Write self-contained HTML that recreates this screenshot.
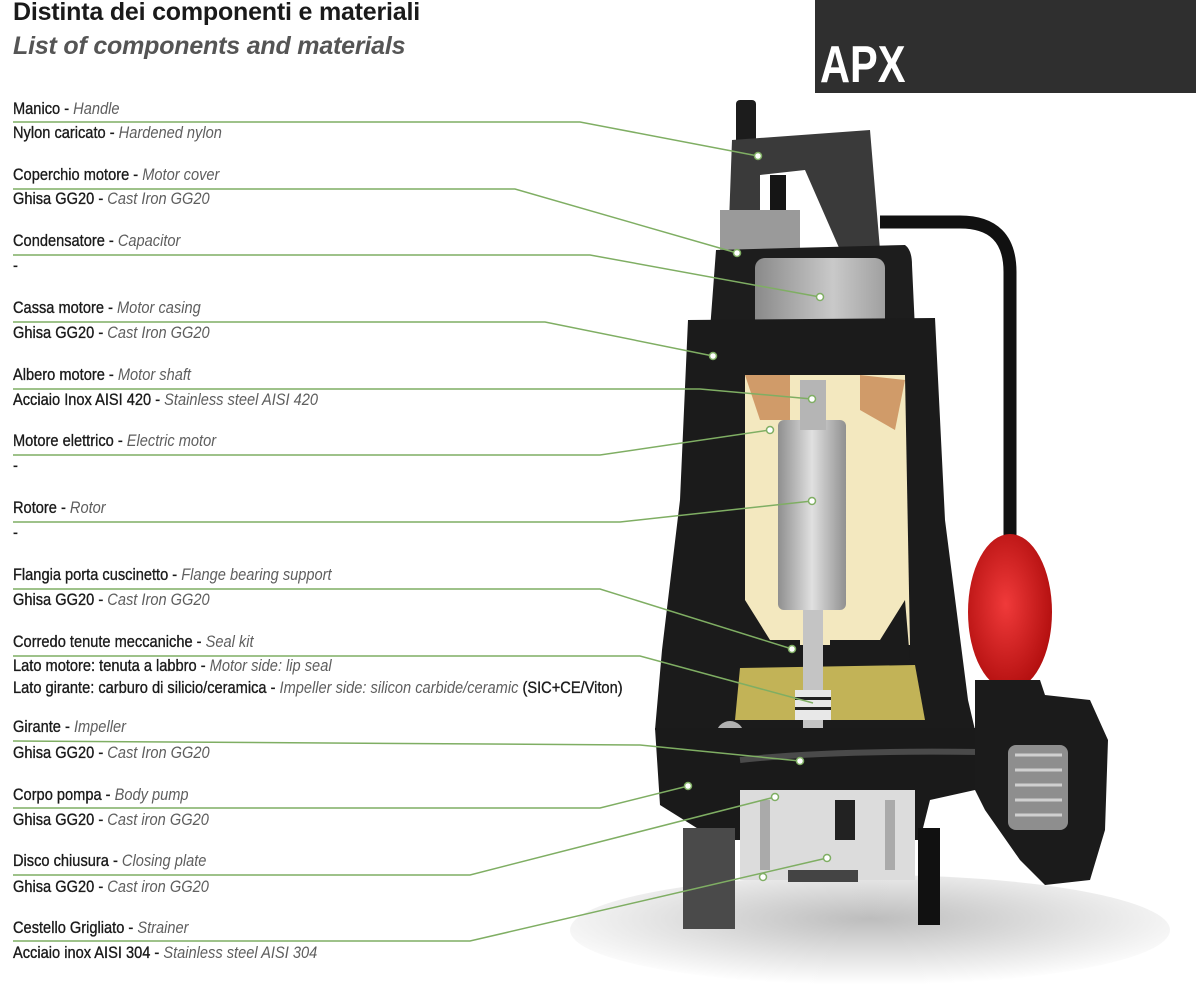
<!DOCTYPE html>
<html><head><meta charset="utf-8"><style>
html,body{margin:0;padding:0;background:#fff;}
#w{position:relative;width:1196px;height:1000px;overflow:hidden;background:#fff;font-family:"Liberation Sans",sans-serif;}
.t1{position:absolute;left:13px;top:-2px;font-size:25px;font-weight:bold;color:#1a1a1a;letter-spacing:-0.2px;}
.t2{position:absolute;left:13px;top:32px;font-size:25px;font-weight:bold;font-style:italic;color:#555;letter-spacing:-0.2px;}
.l{position:absolute;left:13px;font-size:17px;color:#1a1a1a;white-space:nowrap;transform:scaleX(.86);transform-origin:0 0;-webkit-text-stroke:.35px #1a1a1a;}
.l i{color:#5e5e5e;-webkit-text-stroke:0;}
</style></head><body><div id="w">
<svg width="1196" height="1000" style="position:absolute;left:0;top:0">
<defs>
<radialGradient id="sh" cx=".5" cy=".4" r=".6"><stop offset="0" stop-color="#bdbdbd"/><stop offset="1" stop-color="#fff"/></radialGradient>
<linearGradient id="rot" x1="0" y1="0" x2="1" y2="0"><stop offset="0" stop-color="#8f8f8f"/><stop offset=".5" stop-color="#e0e0e0"/><stop offset="1" stop-color="#909090"/></linearGradient>
<linearGradient id="cap" x1="0" y1="0" x2="1" y2="0"><stop offset="0" stop-color="#8a8a8a"/><stop offset=".6" stop-color="#c9c9c9"/><stop offset="1" stop-color="#a0a0a0"/></linearGradient>
<radialGradient id="red" cx=".45" cy=".45" r=".6"><stop offset="0" stop-color="#f03a3a"/><stop offset="1" stop-color="#b00d0d"/></radialGradient>
</defs>
<rect x="815" y="0" width="381" height="93" fill="#2f2f2f"/>
<text x="820" y="82" font-family="Liberation Sans" font-weight="bold" font-size="52" fill="#fff" transform="translate(820 0) scale(.8 1) translate(-820 0)">APX</text>
<ellipse cx="870" cy="930" rx="300" ry="55" fill="url(#sh)"/>
<path d="M880 222 L960 222 Q1010 222 1010 272 L1010 560" stroke="#111" stroke-width="13" fill="none"/>
<ellipse cx="1010" cy="612" rx="42" ry="78" fill="url(#red)"/>
<rect x="736" y="100" width="20" height="55" rx="4" fill="#1c1c1c"/>
<path d="M732 140 L870 130 L880 250 L840 250 L805 170 L760 175 L760 250 L728 250 Z" fill="#3a3a3a"/>
<rect x="770" y="175" width="16" height="70" fill="#151515"/>
<rect x="720" y="210" width="80" height="40" fill="#9a9a9a"/>
<path d="M716 250 L905 245 Q912 250 912 265 L915 330 L710 330 Z" fill="#1d1d1d"/>
<rect x="755" y="258" width="130" height="80" rx="10" fill="url(#cap)"/>
<path d="M688 320 L935 318 L945 520 L968 700 L975 730 L655 730 L662 650 L680 500 Z" fill="#1b1b1b"/>
<path d="M745 375 L905 375 L910 645 L745 645 Z" fill="#f3e8bf"/>
<path d="M745 375 L790 375 L790 420 L760 420 Z" fill="#c07a45" opacity=".7"/>
<path d="M860 375 L905 380 L895 430 L860 410 Z" fill="#c07a45" opacity=".7"/>
<rect x="778" y="420" width="68" height="190" rx="6" fill="url(#rot)"/>
<rect x="800" y="380" width="26" height="50" fill="#b5b5b5"/>
<path d="M745 600 L770 640 L800 640 L800 660 L745 660 Z M905 600 L880 640 L830 640 L830 660 L910 660 Z" fill="#1b1b1b"/>
<path d="M740 668 L915 665 L925 720 L735 720 Z" fill="#c2b357"/>
<rect x="803" y="610" width="20" height="140" fill="#c4c4c4"/>
<rect x="795" y="690" width="36" height="30" fill="#e8e8e8"/>
<rect x="795" y="697" width="36" height="3" fill="#222"/><rect x="795" y="707" width="36" height="3" fill="#222"/>
<circle cx="730" cy="735" r="14" fill="#b0b0b0"/>
<path d="M655 728 L975 728 L990 760 L975 790 L930 800 L920 840 L735 840 L700 830 L660 805 Z" fill="#1a1a1a"/>
<path d="M740 760 Q830 750 980 752" stroke="#4a4a4a" stroke-width="6" fill="none"/>
<path d="M975 680 L1040 680 L1045 695 L1090 700 L1108 740 L1105 830 L1090 880 L1045 885 L1020 860 L985 810 L975 790 Z" fill="#1b1b1b"/>
<rect x="1008" y="745" width="60" height="85" rx="8" fill="#8e8e8e"/>
<g stroke="#d0d0d0" stroke-width="3"><line x1="1015" y1="755" x2="1062" y2="755"/><line x1="1015" y1="770" x2="1062" y2="770"/><line x1="1015" y1="785" x2="1062" y2="785"/><line x1="1015" y1="800" x2="1062" y2="800"/><line x1="1015" y1="815" x2="1062" y2="815"/></g>
<rect x="740" y="790" width="175" height="90" fill="#dcdcdc"/>
<rect x="760" y="800" width="10" height="70" fill="#aaa"/><rect x="885" y="800" width="10" height="70" fill="#aaa"/>
<rect x="835" y="800" width="20" height="40" fill="#222"/>
<rect x="788" y="870" width="70" height="12" fill="#444"/>
<rect x="683" y="828" width="52" height="101" fill="#4a4a4a"/>
<rect x="918" y="828" width="22" height="97" fill="#111"/>
<g stroke="#7fae63" stroke-width="1.5" fill="none">
<polyline points="13,122 580,122 758,156"/>
<polyline points="13,189 515,189 737,253"/>
<polyline points="13,255 590,255 820,297"/>
<polyline points="13,322 545,322 713,356"/>
<polyline points="13,389 700,389 812,399"/>
<polyline points="13,455 600,455 770,430"/>
<polyline points="13,522 620,522 812,501"/>
<polyline points="13,589 600,589 792,649"/>
<polyline points="13,656 640,656 813,703"/>
<polyline points="13,741 640,745 800,761"/>
<polyline points="13,808 600,808 688,786"/>
<polyline points="13,875 470,875 775,797"/>
<polyline points="13,941 470,941 827,858"/>
</g>
<g stroke="#7fae63" stroke-width="1.5" fill="#fff">
<circle cx="758" cy="156" r="3.5"/><circle cx="737" cy="253" r="3.5"/><circle cx="820" cy="297" r="3.5"/><circle cx="713" cy="356" r="3.5"/><circle cx="812" cy="399" r="3.5"/><circle cx="770" cy="430" r="3.5"/><circle cx="812" cy="501" r="3.5"/><circle cx="792" cy="649" r="3.5"/><circle cx="800" cy="761" r="3.5"/><circle cx="688" cy="786" r="3.5"/><circle cx="775" cy="797" r="3.5"/><circle cx="827" cy="858" r="3.5"/><circle cx="763" cy="877" r="3.5"/>
</g>
</svg>
<div class="t1">Distinta dei componenti e materiali</div>
<div class="t2">List of components and materials</div>
<div class="l" style="top:99px">Manico - <i>Handle</i></div>
<div class="l" style="top:123px">Nylon caricato - <i>Hardened nylon</i></div>
<div class="l" style="top:165px">Coperchio motore - <i>Motor cover</i></div>
<div class="l" style="top:189px">Ghisa GG20 - <i>Cast Iron GG20</i></div>
<div class="l" style="top:231px">Condensatore - <i>Capacitor</i></div>
<div class="l" style="top:256px">-</div>
<div class="l" style="top:298px">Cassa motore - <i>Motor casing</i></div>
<div class="l" style="top:323px">Ghisa GG20 - <i>Cast Iron GG20</i></div>
<div class="l" style="top:365px">Albero motore - <i>Motor shaft</i></div>
<div class="l" style="top:390px">Acciaio Inox AISI 420 - <i>Stainless steel AISI 420</i></div>
<div class="l" style="top:431px">Motore elettrico - <i>Electric motor</i></div>
<div class="l" style="top:456px">-</div>
<div class="l" style="top:498px">Rotore - <i>Rotor</i></div>
<div class="l" style="top:523px">-</div>
<div class="l" style="top:565px">Flangia porta cuscinetto - <i>Flange bearing support</i></div>
<div class="l" style="top:590px">Ghisa GG20 - <i>Cast Iron GG20</i></div>
<div class="l" style="top:632px">Corredo tenute meccaniche - <i>Seal kit</i></div>
<div class="l" style="top:656px">Lato motore: tenuta a labbro - <i>Motor side: lip seal</i></div>
<div class="l" style="top:678px">Lato girante: carburo di silicio/ceramica - <i>Impeller side: silicon carbide/ceramic</i> (SIC+CE/Viton)</div>
<div class="l" style="top:717px">Girante - <i>Impeller</i></div>
<div class="l" style="top:743px">Ghisa GG20 - <i>Cast Iron GG20</i></div>
<div class="l" style="top:785px">Corpo pompa - <i>Body pump</i></div>
<div class="l" style="top:810px">Ghisa GG20 - <i>Cast iron GG20</i></div>
<div class="l" style="top:851px">Disco chiusura - <i>Closing plate</i></div>
<div class="l" style="top:877px">Ghisa GG20 - <i>Cast iron GG20</i></div>
<div class="l" style="top:918px">Cestello Grigliato - <i>Strainer</i></div>
<div class="l" style="top:943px">Acciaio inox AISI 304 - <i>Stainless steel AISI 304</i></div>
</div></body></html>
